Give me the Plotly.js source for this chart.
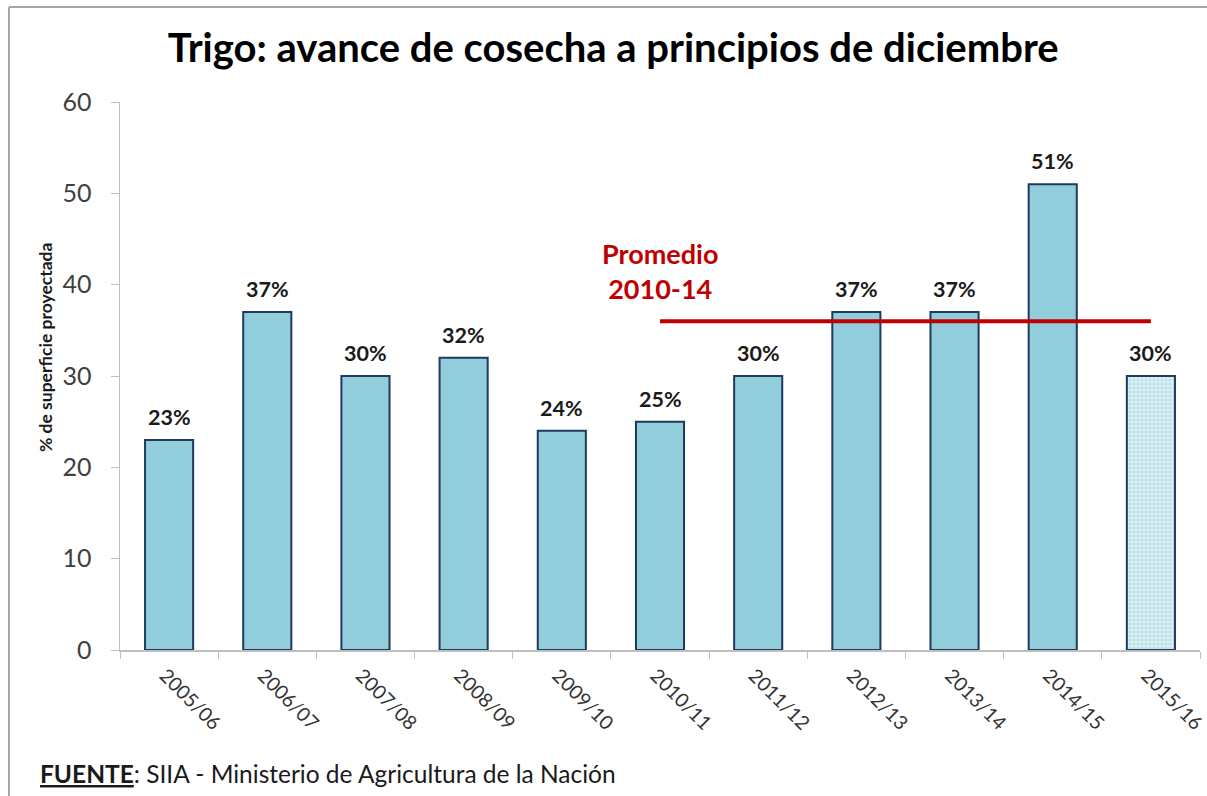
<!DOCTYPE html>
<html>
<head>
<meta charset="utf-8">
<script src="https://cdn.plot.ly/plotly-3.0.1.min.js"></script>
<style>
html,body{margin:0;padding:0;background:#fff;}
#chart{width:1207px;height:796px;}
</style>
</head>
<body>
<div id="chart"></div>
<script>
const campaigns = ["2005/06","2006/07","2007/08","2008/09","2009/10","2010/11","2011/12","2012/13","2013/14","2014/15","2015/16"];
const harvestPct = [23, 37, 30, 32, 24, 25, 30, 37, 37, 51, 30];
const avgCampaigns = ["2010/11","2015/16"];
const avgValue = 36;
const avgLabel = "Promedio<br>2010-14";
const titleText = "Trigo: avance de cosecha a principios de diciembre";
const yTitle = "% de superficie proyectada";
const yTicks = [0,10,20,30,40,50,60];

const FONT = "Lato, 'Open Sans', sans-serif";
const lastIdx = harvestPct.length - 1;

const solidTrace = {
  type: "bar",
  x: campaigns.slice(0, lastIdx),
  y: harvestPct.slice(0, lastIdx),
  width: 0.49,
  marker: {color: "#92CDDC", line: {color: "#1F3A5F", width: 2}},
  hoverinfo: "x+y",
  showlegend: false
};

const projTrace = {
  type: "bar",
  x: campaigns.slice(lastIdx),
  y: harvestPct.slice(lastIdx),
  width: 0.49,
  marker: {
    color: "#DDF0F5",
    line: {color: "#1F3A5F", width: 2},
    pattern: {shape: ".", fgcolor: "#92CDDC", size: 4, solidity: 0.5, fillmode: "overlay"}
  },
  hoverinfo: "x+y",
  showlegend: false
};

const avgTrace = {
  type: "scatter",
  mode: "lines",
  x: avgCampaigns,
  y: [avgValue, avgValue],
  line: {color: "#C00000", width: 4},
  showlegend: false,
  hoverinfo: "y"
};

const valueLabels = campaigns.map((c, i) => ({
  xref: "x", yref: "y",
  x: c, y: harvestPct[i],
  text: "<b>" + harvestPct[i] + "%</b>",
  showarrow: false,
  xanchor: "center", yanchor: "bottom",
  yshift: 8,
  font: {family: FONT, size: 21.5, color: "#1a1a1a"}
}));

const layout = {
  width: 1207, height: 796,
  margin: {l: 120, r: 7, t: 102, b: 146},
  paper_bgcolor: "#ffffff",
  plot_bgcolor: "#ffffff",
  font: {family: FONT, color: "#404040"},
  barmode: "overlay",
  title: {
    text: "<b>" + titleText + "</b>",
    font: {family: FONT, size: 40, color: "#000000"},
    x: 0.508, xanchor: "center",
    y: 0.94, yanchor: "middle"
  },
  xaxis: {
    type: "category",
    categoryorder: "array",
    categoryarray: campaigns,
    range: [-0.5, 10.5],
    tickangle: 45,
    tickfont: {family: FONT, size: 19.5, color: "#333333"},
    ticklabelstandoff: 5,
    ticklabelshift: -4,
    showline: true, linecolor: "#BFBFBF", linewidth: 1.5,
    ticks: "outside", tickson: "boundaries", ticklen: 7, tickcolor: "#BFBFBF",
    showgrid: false, zeroline: false,
    fixedrange: true
  },
  yaxis: {
    range: [0, 60],
    tickvals: yTicks,
    tickfont: {family: FONT, size: 25, color: "#404040"},
    showline: true, linecolor: "#BFBFBF", linewidth: 1.5,
    ticks: "outside", ticklen: 8, tickcolor: "#BFBFBF",
    ticklabelstandoff: 14,
    showgrid: false, zeroline: false,
    fixedrange: true,
    title: {text: ""}
  },
  annotations: valueLabels.concat([
    {
      xref: "paper", yref: "paper",
      x: (45 - 120) / 1080, y: (650 - 348) / 548,
      text: "<b>" + yTitle + "</b>",
      textangle: -90, showarrow: false,
      font: {family: FONT, size: 17.5, color: "#1a1a1a"},
      xanchor: "center", yanchor: "middle"
    },
    {
      xref: "x", yref: "y",
      x: "2010/11", y: 41.5,
      text: "<b>" + avgLabel + "</b>",
      showarrow: false,
      font: {family: FONT, size: 27, color: "#C00000"},
      xanchor: "center", yanchor: "middle",
      align: "center"
    },
    {
      xref: "paper", yref: "paper",
      x: (38 - 120) / 1080, y: (650 - 773) / 548,
      text: "<b><u>FUENTE</u></b>: SIIA - Ministerio de Agricultura de la Nación",
      showarrow: false,
      font: {family: FONT, size: 24.5, color: "#1a1a1a"},
      xanchor: "left", yanchor: "middle"
    }
  ]),
  shapes: [
    {type: "line", xref: "paper", yref: "paper",
     x0: (9 - 120) / 1080, x1: (9 - 120) / 1080, y0: (650 - 7) / 548, y1: (650 - 800) / 548,
     line: {color: "#A6A6A6", width: 2}},
    {type: "line", xref: "paper", yref: "paper",
     x0: (9 - 120) / 1080, x1: (1210 - 120) / 1080, y0: (650 - 7) / 548, y1: (650 - 7) / 548,
     line: {color: "#A6A6A6", width: 2}}
  ]
};

Plotly.newPlot("chart", [solidTrace, projTrace, avgTrace], layout, {displayModeBar: false, staticPlot: true});
</script>
</body>
</html>
